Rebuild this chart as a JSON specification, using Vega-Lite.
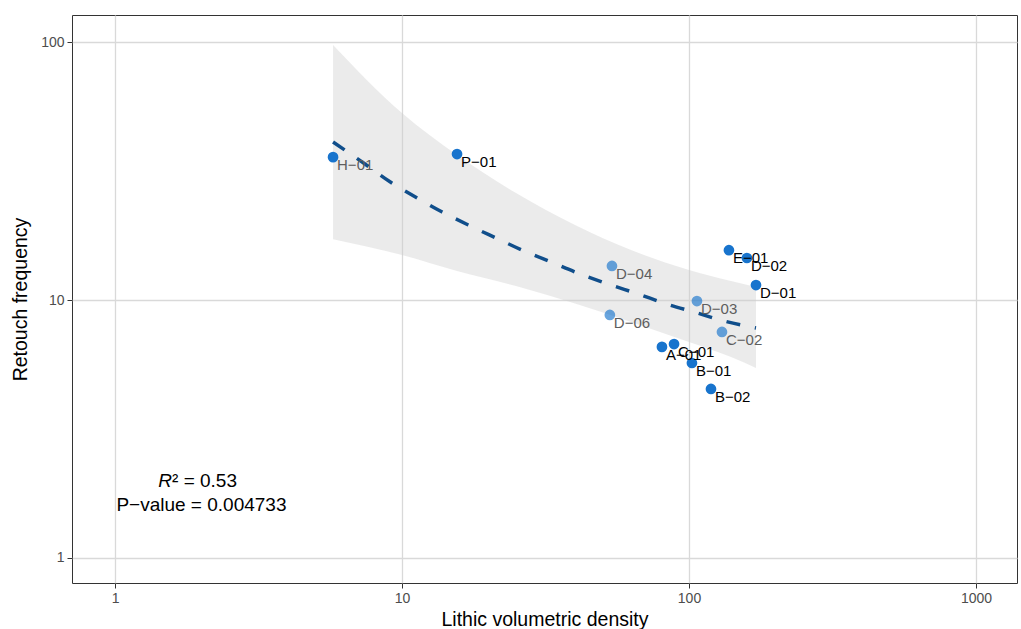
{
  "$schema": "https://vega.github.io/schema/vega-lite/v6.json",
  "width": 945,
  "height": 568,
  "autosize": {"type": "none"},
  "padding": {"left": 72, "top": 15, "right": 4, "bottom": 46},
  "background": "white",
  "config": {
    "view": {"stroke": "#333333", "strokeWidth": 1},
    "font": "Liberation Sans",
    "axis": {
      "domain": false,
      "grid": true,
      "gridColor": "#d9d9d9",
      "gridWidth": 1.3,
      "tickColor": "#333333",
      "tickSize": 5,
      "tickWidth": 1,
      "labelFont": "Liberation Sans",
      "labelFontSize": 14,
      "labelColor": "#4d4d4d",
      "titleFont": "Liberation Sans",
      "titleFontSize": 19.5,
      "titleFontWeight": "normal",
      "titleColor": "#000000"
    }
  },
  "datasets": {
    "pts": [
      {"site": "H−01", "density": 5.75, "freq": 35.8, "pt": "solid", "lab": "grey"},
      {"site": "P−01", "density": 15.55, "freq": 36.8, "pt": "solid", "lab": "black"},
      {"site": "D−04", "density": 53.9, "freq": 13.55, "pt": "faded", "lab": "grey"},
      {"site": "D−06", "density": 53.0, "freq": 8.75, "pt": "faded", "lab": "grey"},
      {"site": "E−01", "density": 137.8, "freq": 15.6, "pt": "solid", "lab": "black"},
      {"site": "D−02", "density": 159.2, "freq": 14.55, "pt": "solid", "lab": "black"},
      {"site": "D−01", "density": 171.2, "freq": 11.43, "pt": "solid", "lab": "black"},
      {"site": "D−03", "density": 106.6, "freq": 9.91, "pt": "faded", "lab": "grey"},
      {"site": "C−02", "density": 130.3, "freq": 7.52, "pt": "faded", "lab": "grey"},
      {"site": "A−01", "density": 80.5, "freq": 6.58, "pt": "solid", "lab": "black"},
      {"site": "C−01", "density": 88.7, "freq": 6.75, "pt": "solid", "lab": "black"},
      {"site": "B−01", "density": 102.4, "freq": 5.70, "pt": "solid", "lab": "black"},
      {"site": "B−02", "density": 119.3, "freq": 4.52, "pt": "solid", "lab": "black"}
    ],
    "band": [
      {"density": 5.75, "lo": 17.2, "hi": 97.4},
      {"density": 10, "lo": 14.94, "hi": 53.05},
      {"density": 15.55, "lo": 12.95, "hi": 36.48},
      {"density": 24.96, "lo": 11.33, "hi": 26.0},
      {"density": 40.07, "lo": 9.70, "hi": 19.53},
      {"density": 62.8, "lo": 8.22, "hi": 15.62},
      {"density": 100, "lo": 6.87, "hi": 13.07},
      {"density": 140.1, "lo": 6.01, "hi": 11.85},
      {"density": 171.2, "lo": 5.45, "hi": 11.23}
    ],
    "fit": [
      {"density": 5.75, "freq": 40.96},
      {"density": 7.43, "freq": 33.66},
      {"density": 9.08, "freq": 28.74},
      {"density": 11.10, "freq": 25.14},
      {"density": 13.75, "freq": 21.99},
      {"density": 17.02, "freq": 19.53},
      {"density": 21.38, "freq": 17.34},
      {"density": 26.47, "freq": 15.53},
      {"density": 33.23, "freq": 14.0},
      {"density": 41.72, "freq": 12.62},
      {"density": 52.34, "freq": 11.53},
      {"density": 66.56, "freq": 10.55},
      {"density": 83.6, "freq": 9.65},
      {"density": 104.9, "freq": 8.96},
      {"density": 131.7, "freq": 8.31},
      {"density": 171.2, "freq": 7.79}
    ],
    "r2": [
      {"density": 1.58, "freq": 1.99, "a": "R", "b": "² = 0.53"}
    ],
    "pval": [
      {"density": 2.0, "freq": 1.605, "label": "P−value = 0.004733"}
    ]
  },
  "layer": [
    {
      "data": {"name": "band"},
      "mark": {"type": "area", "color": "#cccccc", "opacity": 0.4, "interpolate": "monotone"},
      "encoding": {
        "x": {"field": "density", "type": "quantitative",
          "scale": {"type": "log", "domain": [0.708, 1390], "nice": false},
          "axis": {"values": [1, 10, 100, 1000], "format": "d", "title": "Lithic volumetric density", "labelPadding": 3, "titlePadding": 5}},
        "y": {"field": "lo", "type": "quantitative",
          "scale": {"type": "log", "domain": [0.80, 127.3], "nice": false},
          "axis": {"values": [1, 10, 100], "format": "d", "title": "Retouch frequency", "labelPadding": 3, "titlePadding": 10}},
        "y2": {"field": "hi"}
      }
    },
    {
      "data": {"name": "fit"},
      "mark": {"type": "line", "color": "#104E8B", "strokeWidth": 3.5, "strokeDash": [14, 15], "interpolate": "monotone"},
      "encoding": {
        "x": {"field": "density", "type": "quantitative"},
        "y": {"field": "freq", "type": "quantitative"}
      }
    },
    {
      "data": {"name": "pts"},
      "mark": {"type": "circle", "size": 115, "color": "#1874CD"},
      "encoding": {
        "x": {"field": "density", "type": "quantitative"},
        "y": {"field": "freq", "type": "quantitative"},
        "opacity": {"condition": {"test": "datum.pt === 'faded'", "value": 0.65}, "value": 1}
      }
    },
    {
      "data": {"name": "pts"},
      "mark": {"type": "text", "align": "left", "baseline": "middle", "dx": 4, "dy": 8, "fontSize": 15},
      "encoding": {
        "x": {"field": "density", "type": "quantitative"},
        "y": {"field": "freq", "type": "quantitative"},
        "text": {"field": "site"},
        "color": {"condition": {"test": "datum.lab === 'grey'", "value": "#5e5e5e"}, "value": "#000000"}
      }
    },
    {
      "data": {"name": "r2"},
      "mark": {"type": "text", "align": "right", "baseline": "middle", "fontSize": 19, "fontStyle": "italic", "color": "#000000"},
      "encoding": {
        "x": {"field": "density", "type": "quantitative"},
        "y": {"field": "freq", "type": "quantitative"},
        "text": {"field": "a"}
      }
    },
    {
      "data": {"name": "r2"},
      "mark": {"type": "text", "align": "left", "baseline": "middle", "fontSize": 19, "color": "#000000"},
      "encoding": {
        "x": {"field": "density", "type": "quantitative"},
        "y": {"field": "freq", "type": "quantitative"},
        "text": {"field": "b"}
      }
    },
    {
      "data": {"name": "pval"},
      "mark": {"type": "text", "align": "center", "baseline": "middle", "fontSize": 19, "color": "#000000"},
      "encoding": {
        "x": {"field": "density", "type": "quantitative"},
        "y": {"field": "freq", "type": "quantitative"},
        "text": {"field": "label"}
      }
    }
  ]
}
